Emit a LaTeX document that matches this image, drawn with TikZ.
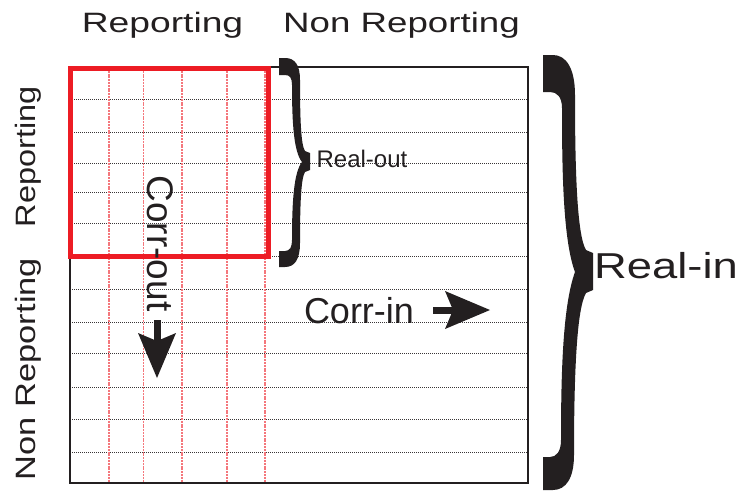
\documentclass[tikz,border=0pt]{standalone}
\usepackage{graphicx}
\usepackage{fontspec}
\setmainfont{Liberation Sans}
\usetikzlibrary{arrows.meta}
\definecolor{ink}{RGB}{35,31,32}
\definecolor{redbox}{RGB}{237,28,36}
\begin{document}
\begin{tikzpicture}[x=1pt,y=-1pt,
  lbl/.style={inner sep=0pt, text=ink},
  rowline/.style={draw=ink!90, line width=0.9pt, dash pattern=on 1pt off 1pt},
  colline/.style={draw=redbox!60, line width=1.1pt, dash pattern=on 2pt off 0.8pt},
  bigarrow/.style={draw=ink, fill=ink, line width=7pt,
    -{Stealth[length=45pt,width=38pt,inset=8pt,line width=0pt]}},
  bracefill/.style={fill=ink, draw=none}
]
\useasboundingbox (0,0) rectangle (742,493);

% grid rows
\foreach \y in {99,132,163,192,223,256,289,322,353,387,419,452}
  \draw[rowline] (70,\y) -- (528,\y);
% red columns
\foreach \x in {109,143.5,182,227,265}
  \draw[colline] (\x,68) -- (\x,483);
% outer box
\draw[ink, line width=1.3pt] (70,67) rectangle (528,483);
% red box
\draw[redbox, line width=5pt] (70,68) rectangle (268,256.5);

% labels
\node[lbl, font=\fontsize{28}{28}\selectfont, anchor=base] (toprep) at (162.5,32) {\scalebox{1.33}[1]{Reporting}};
\node[lbl, font=\fontsize{28}{28}\selectfont, anchor=base] (topnon) at (401.5,32) {\scalebox{1.31}[1]{Non Reporting}};
\node[lbl, font=\fontsize{28}{28}\selectfont, rotate=90, anchor=base] (leftrep) at (35,157) {\scalebox{1.16}[1]{Reporting}};
\node[lbl, font=\fontsize{28}{28}\selectfont, rotate=90, anchor=base] (leftnon) at (35,369) {\scalebox{1.23}[1]{Non Reporting}};
\node[lbl, font=\fontsize{37}{37}\selectfont, rotate=-90, anchor=base] (corrout) at (147,243.5) {Corr-out};
\node[lbl, font=\fontsize{36}{36}\selectfont, anchor=base] (corrin) at (359,323) {Corr-in};
\node[lbl, font=\fontsize{24}{24}\selectfont, anchor=base] (realout) at (362,167) {Real-out};
\node[lbl, font=\fontsize{36}{36}\selectfont, anchor=base] (realin) at (666,278) {\scalebox{1.26}[1]{Real-in}};

% arrows
\coordinate (outA) at (157,320);
\coordinate (outB) at (157,378);
\draw[bigarrow] (outA) -- (outB);
\coordinate (inA) at (433,310);
\coordinate (inB) at (490,310);
\draw[bigarrow] (inA) -- (inB);

% small brace (Real-out)
\fill[bracefill] (279,58) -- (285,58)
  .. controls (295,58) and (300,65) .. (300,80)
  .. controls (300,120) and (301,145) .. (305,151)
  -- (310,153) -- (310,170) -- (305,172)
  .. controls (301,178) and (300,205) .. (300,243)
  .. controls (300,259) and (295,267) .. (285,267)
  -- (279,267) -- (279,251) -- (285,251)
  .. controls (290,251) and (292,247) .. (292,240)
  .. controls (292,200) and (294,172) .. (302,162)
  .. controls (294,152) and (292,125) .. (292,85)
  .. controls (292,78) and (290,75) .. (285,75)
  -- (279,75) -- cycle;

% big brace (Real-in)
\fill[bracefill] (543,55) -- (553,55)
  .. controls (566,55) and (575,68) .. (575,95)
  .. controls (575,170) and (577,235) .. (586,250)
  -- (593,253) -- (593,290) -- (586,293)
  .. controls (577,308) and (574,370) .. (574,455)
  .. controls (574,478) and (566,490) .. (553,490)
  -- (543,490) -- (543,457) -- (550,457)
  .. controls (556,457) and (561,452) .. (561,440)
  .. controls (561,370) and (563,305) .. (575,272)
  .. controls (563,240) and (562,170) .. (562,108)
  .. controls (562,97) and (557,92) .. (550,92)
  -- (543,92) -- cycle;
\end{tikzpicture}
\end{document}
